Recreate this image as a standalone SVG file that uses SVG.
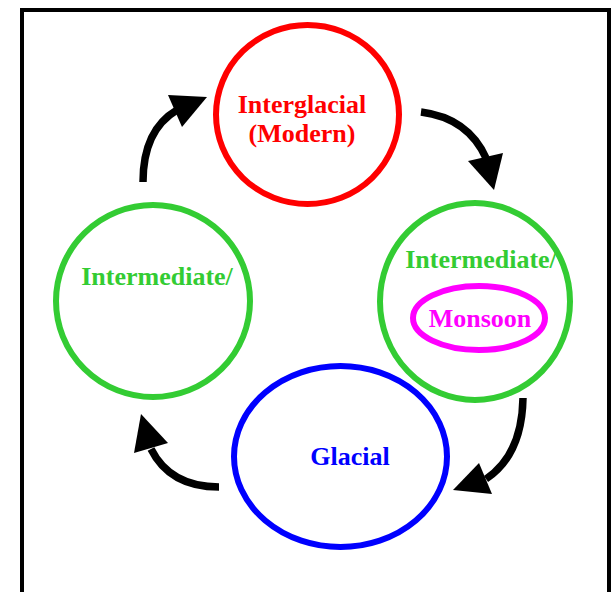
<svg xmlns="http://www.w3.org/2000/svg" width="611" height="592" viewBox="0 0 611 592">
<style>
.lbl{font-family:"Liberation Serif","Times New Roman",serif;font-weight:bold;font-size:26px;text-anchor:middle}
.ring{fill:none;stroke-width:6}
.conn{fill:none;stroke:#000;stroke-width:7.5}
.head{fill:#000}
</style>
<rect x="22" y="10" width="587" height="600" fill="#fff" stroke="#000" stroke-width="4"/>
<g id="interglacial">
<ellipse class="ring" cx="307.5" cy="114.5" rx="91.5" ry="89.5" stroke="#FF0000"/>
<text class="lbl" x="302" y="113" fill="#FF0000">Interglacial</text>
<text class="lbl" x="302" y="142" fill="#FF0000">(Modern)</text>
</g>
<g id="intermediate-monsoon">
<ellipse class="ring" cx="475" cy="301.5" rx="95" ry="98.5" stroke="#33CC33"/>
<text class="lbl" x="481" y="268" fill="#33CC33">Intermediate/</text>
</g>
<g id="monsoon">
<ellipse class="ring" cx="479" cy="318" rx="66" ry="32" stroke="#FF00FF"/>
<text class="lbl" x="480" y="327" fill="#FF00FF">Monsoon</text>
</g>
<g id="glacial">
<ellipse class="ring" cx="340.5" cy="456.5" rx="106.5" ry="90.5" stroke="#0000FF"/>
<text class="lbl" x="350" y="465" fill="#0000FF">Glacial</text>
</g>
<g id="intermediate-left">
<ellipse class="ring" cx="153" cy="301" rx="97" ry="96" stroke="#33CC33"/>
<text class="lbl" x="157" y="285" fill="#33CC33">Intermediate/</text>
</g>
<g id="connectors">
<path class="conn" d="M143,182 Q143,130 177,110"/>
<polygon class="head" points="168,95 207,97 182,127"/>
<path class="conn" d="M421,112 Q468,118 486,158"/>
<polygon class="head" points="468,161 503,153 494,190"/>
<path class="conn" d="M523,398 Q522,455 486,479"/>
<polygon class="head" points="479,463 492,494 453,490"/>
<path class="conn" d="M219,487 Q170,487 151,449"/>
<polygon class="head" points="134,453 168,443 141,414"/>
</g>
</svg>
